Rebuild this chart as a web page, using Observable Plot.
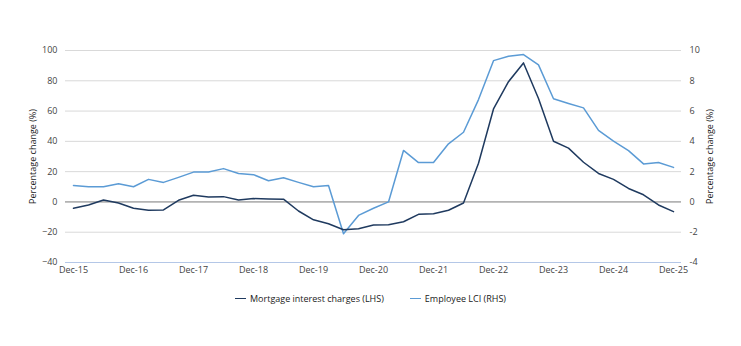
<!DOCTYPE html>
<html>
<head>
<meta charset="utf-8">
<script src="https://cdn.jsdelivr.net/npm/d3@7"></script>
<script src="https://cdn.jsdelivr.net/npm/@observablehq/plot@0.6"></script>
<style>
  body { margin: 0; background: #fff; font-family: "Open Sans", sans-serif; }
  #chart { width: 741px; }
  .legend { display: flex; justify-content: center; gap: 26px; font-size: 9px; color: #1a1a1a; margin-top: 7px; }
  .legend .item { display: flex; align-items: center; }
  .legend .sw { display: inline-block; width: 11px; height: 0; border-top: 1.5px solid; margin-right: 4px; }
</style>
</head>
<body>
<div id="chart"></div>
<script>
const quarters = ["Dec-15","Mar-16","Jun-16","Sep-16","Dec-16","Mar-17","Jun-17","Sep-17","Dec-17","Mar-18","Jun-18","Sep-18","Dec-18","Mar-19","Jun-19","Sep-19","Dec-19","Mar-20","Jun-20","Sep-20","Dec-20","Mar-21","Jun-21","Sep-21","Dec-21","Mar-22","Jun-22","Sep-22","Dec-22","Mar-23","Jun-23","Sep-23","Dec-23","Mar-24","Jun-24","Sep-24","Dec-24","Mar-25","Jun-25","Sep-25","Dec-25"];
const mortgageLHS = [-4.2,-2.0,1.3,-0.7,-4.2,-5.5,-5.3,1.1,4.4,3.3,3.5,1.3,2.2,2.0,1.8,-6.0,-11.8,-14.4,-18.4,-17.7,-15.3,-15.1,-13.1,-8.2,-7.8,-5.5,-0.7,25.5,61.4,79.4,91.8,68.3,40.1,35.5,26.2,18.8,14.9,8.9,4.7,-2.0,-6.4];
const lciRHS = [1.09,1.0,1.0,1.2,1.0,1.49,1.29,1.62,1.97,1.97,2.2,1.88,1.8,1.4,1.6,1.29,1.0,1.09,-2.1,-0.89,-0.42,0.0,3.4,2.6,2.6,3.84,4.6,6.76,9.33,9.62,9.73,9.05,6.81,6.5,6.21,4.72,4.01,3.39,2.51,2.6,2.28];
const leftTicks = [-40,-20,0,20,40,60,80,100];
const xTickLabels = ["Dec-15","Dec-16","Dec-17","Dec-18","Dec-19","Dec-20","Dec-21","Dec-22","Dec-23","Dec-24","Dec-25"];
const seriesNames = ["Mortgage interest charges (LHS)", "Employee LCI (RHS)"];
const colors = ["#1f3a5f", "#5b9bd5"];

const mortgage = quarters.map((q, i) => ({i, q, v: mortgageLHS[i]}));
const lci = quarters.map((q, i) => ({i, q, v: lciRHS[i] * 10}));
const xTicks = xTickLabels.map(l => quarters.indexOf(l));

const pad = 8 / 15;
const chart = Plot.plot({
  width: 741,
  height: 285,
  marginTop: 50,
  marginBottom: 23,
  marginLeft: 65,
  marginRight: 60,
  style: {fontFamily: "Open Sans, sans-serif", fontSize: "9px", color: "#444"},
  x: {domain: [-pad, quarters.length - 1 + pad]},
  y: {domain: [-40, 100]},
  marks: [
    Plot.gridY(leftTicks, {stroke: "#d9d9d9", strokeOpacity: 1, strokeWidth: 1}),
    Plot.ruleY([0], {stroke: "#8c8c8c", strokeWidth: 1}),
    Plot.ruleY([-40], {stroke: "#b4c7e7", strokeWidth: 1}),
    Plot.axisY(leftTicks, {anchor: "left", tickSize: 0, tickPadding: 8, label: null, fill: "#444"}),
    Plot.axisY(leftTicks, {anchor: "right", tickSize: 0, tickPadding: 8, label: null, tickFormat: d => d / 10, fill: "#444"}),
    Plot.axisX(xTicks, {anchor: "bottom", tickSize: 0, tickPadding: 4, label: null, tickFormat: i => quarters[i], fill: "#444"}),
    Plot.text(["Percentage change (%)"], {frameAnchor: "left", textAnchor: "middle", dx: -32, rotate: -90, fill: "#1a1a1a", fontSize: 9}),
    Plot.text(["Percentage change (%)"], {frameAnchor: "right", textAnchor: "middle", dx: 29, rotate: -90, fill: "#1a1a1a", fontSize: 9}),
    Plot.line(lci, {x: "i", y: "v", stroke: colors[1], strokeWidth: 1.5}),
    Plot.line(mortgage, {x: "i", y: "v", stroke: colors[0], strokeWidth: 1.5})
  ]
});
document.getElementById("chart").appendChild(chart);

const legend = document.createElement("div");
legend.className = "legend";
seriesNames.forEach((name, k) => {
  const item = document.createElement("div");
  item.className = "item";
  const sw = document.createElement("span");
  sw.className = "sw";
  sw.style.borderColor = colors[k];
  item.appendChild(sw);
  item.appendChild(document.createTextNode(name));
  legend.appendChild(item);
});
document.getElementById("chart").appendChild(legend);
</script>
</body>
</html>
